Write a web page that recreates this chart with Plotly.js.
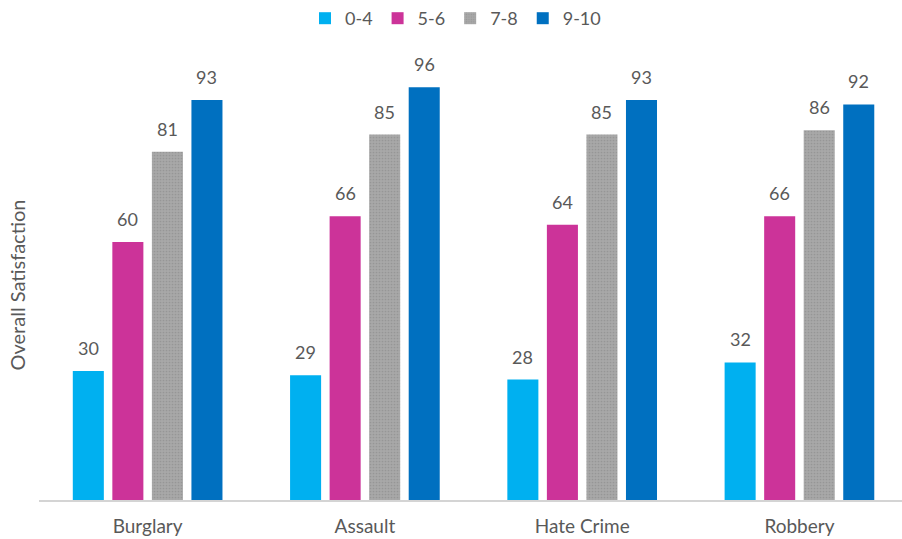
<!DOCTYPE html>
<html>
<head>
<meta charset="utf-8">
<script src="https://cdn.plot.ly/plotly-3.0.1.min.js"></script>
<style>
  html, body { margin: 0; padding: 0; background: #ffffff; overflow: hidden; }
  #chart { width: 902px; height: 539px; }
</style>
</head>
<body>
<div id="chart"></div>
<script>
// Crime types on the x axis
const categories = ["Burglary", "Assault", "Hate Crime", "Robbery"];

// Score bands shown in the legend
const bandNames = ["0-4", "5-6", "7-8", "9-10"];

// Overall satisfaction per crime type, one array per score band
const band0to4 = [30, 29, 28, 32];
const band5to6 = [60, 66, 64, 66];
const band7to8 = [81, 85, 85, 86];
const band9to10 = [93, 96, 93, 92];

const bandValues = [band0to4, band5to6, band7to8, band9to10];
const bandColors = ["#00b0f0", "#cc3399", "#a5a5a5", "#0070c0"];

const textColor = "#595959";
const fontFamily = "Lato, 'Open Sans', sans-serif";

const traces = bandNames.map((name, i) => {
  const marker = { color: bandColors[i], line: { width: 0 } };
  if (name === "7-8") {
    // fine stipple texture on the grey band
    marker.pattern = { shape: ".", bgcolor: "#a8a8a8", fgcolor: "#969696", size: 3, solidity: 0.25 };
  }
  return {
    type: "bar",
    name: name,
    x: categories,
    y: bandValues[i],
    marker: marker,
    hoverinfo: "x+y+name"
  };
});

// Value labels above each bar, offset sideways to sit over their bar in the group
const pitch = 39.5;
const annotations = [];
bandValues.forEach((vals, i) => {
  vals.forEach((v, j) => {
    annotations.push({
      x: categories[j],
      y: v,
      xref: "x",
      yref: "y",
      text: String(v),
      showarrow: false,
      xanchor: "center",
      yanchor: "bottom",
      xshift: (i - 1.5) * pitch,
      yshift: 10,
      font: { family: fontFamily, size: 18, color: textColor }
    });
  });
});

const layout = {
  width: 902,
  height: 539,
  paper_bgcolor: "#ffffff",
  plot_bgcolor: "#ffffff",
  margin: { l: 39, r: 0, t: 70, b: 39 },
  barmode: "group",
  bargap: 0.272,
  bargroupgap: 0.215,
  font: { family: fontFamily, color: textColor },
  showlegend: true,
  legend: {
    orientation: "h",
    x: 0.505,
    xanchor: "center",
    xref: "container",
    y: 1.0,
    yref: "container",
    yanchor: "top",
    font: { family: fontFamily, size: 18, color: textColor },
    itemwidth: 30,
    traceorder: "normal"
  },
  xaxis: {
    type: "category",
    range: [-0.5, 3.472],
    showgrid: false,
    zeroline: false,
    showline: true,
    linecolor: "#d4d4d4",
    linewidth: 1.5,
    ticks: "",
    ticklabelstandoff: 9,
    tickfont: { family: fontFamily, size: 19, color: textColor },
    fixedrange: true
  },
  yaxis: {
    range: [0, 100],
    showgrid: false,
    zeroline: false,
    showline: false,
    showticklabels: false,
    ticks: "",
    title: {
      text: "Overall Satisfaction",
      font: { family: fontFamily, size: 20, color: textColor },
      standoff: 7
    },
    fixedrange: true
  },
  annotations: annotations
};

Plotly.newPlot("chart", traces, layout, { displayModeBar: false, staticPlot: true });
</script>
</body>
</html>
